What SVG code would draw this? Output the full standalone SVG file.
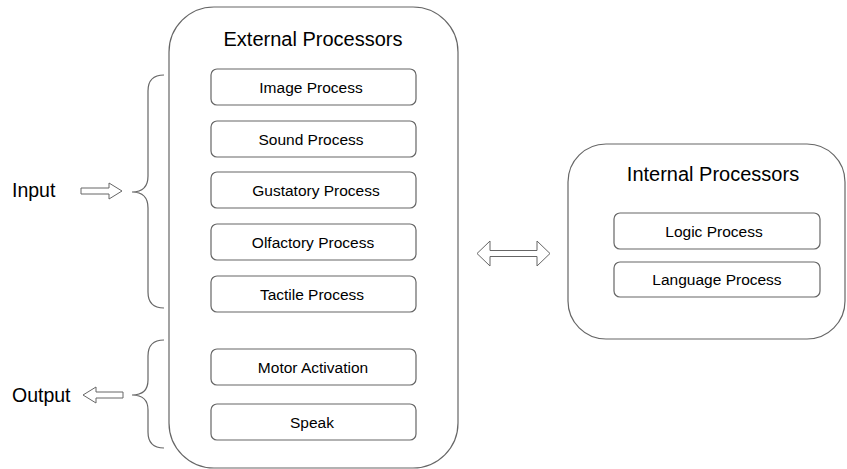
<svg xmlns="http://www.w3.org/2000/svg" width="847" height="469" viewBox="0 0 847 469">
<style>
.big{fill:#fff;stroke:#666;stroke-width:1.2}
.box{fill:#fff;stroke:#666;stroke-width:1.2}
.t{font-family:"Liberation Sans",Arial,sans-serif;fill:#000;text-anchor:middle}
.s{font-size:15.5px}
.h{font-size:20px}
.l{font-family:"Liberation Sans",Arial,sans-serif;font-size:19.5px;fill:#000}
.br{fill:none;stroke:#666;stroke-width:1.2}
.ar{fill:#fff;stroke:#666;stroke-width:1}
</style>
<rect width="847" height="469" fill="#fff"/>
<g id="external">
<rect class="big" x="169" y="7" width="289" height="461" rx="45" ry="45"/>
<text class="t h" x="313" y="46">External Processors</text>
</g>
<g id="image"><rect class="box" x="211" y="69" width="205" height="36" rx="6"/><text class="t s" x="311" y="93">Image Process</text></g>
<g id="sound"><rect class="box" x="211" y="121" width="205" height="36" rx="6"/><text class="t s" x="311" y="145">Sound Process</text></g>
<g id="gustatory"><rect class="box" x="211" y="172" width="205" height="36" rx="6"/><text class="t s" x="316" y="196">Gustatory Process</text></g>
<g id="olfactory"><rect class="box" x="211" y="224" width="205" height="36" rx="6"/><text class="t s" x="313" y="248">Olfactory Process</text></g>
<g id="tactile"><rect class="box" x="211" y="276" width="205" height="36" rx="6"/><text class="t s" x="312" y="300">Tactile Process</text></g>
<g id="motor"><rect class="box" x="211" y="349" width="205" height="36" rx="6"/><text class="t s" x="313" y="373">Motor Activation</text></g>
<g id="speak"><rect class="box" x="211" y="404" width="205" height="36" rx="6"/><text class="t s" x="312" y="428">Speak</text></g>
<g id="internal">
<rect class="big" x="568" y="144" width="277" height="195" rx="38" ry="38"/>
<text class="t h" x="713" y="181">Internal Processors</text>
</g>
<g id="logic"><rect class="box" x="614" y="213" width="206" height="36" rx="6"/><text class="t s" x="714" y="237">Logic Process</text></g>
<g id="language"><rect class="box" x="614" y="262" width="206" height="35" rx="6"/><text class="t s" x="717" y="285">Language Process</text></g>
<g id="input"><text class="l" x="12" y="197">Input</text></g>
<g id="output"><text class="l" x="12" y="402">Output</text></g>
<g id="connectors">
<path class="br" d="M164,75 Q148,75 148,91 L148,176 Q148,192 132,192 Q148,192 148,208 L148,292 Q148,308 164,308"/>
<path class="br" d="M164,340 Q148,340 148,356 L148,380 Q148,395 132,395 Q148,395 148,410 L148,432 Q148,448 164,448"/>
<path class="ar" d="M81,188 L109,188 L109,183 L122,191 L109,199 L109,194 L81,194 Z"/>
<path class="ar" d="M123,392 L96,392 L96,387 L83,395 L96,403 L96,398 L123,398 Z"/>
<path class="ar" d="M477,253.5 L490,241 L490,250.5 L537,250.5 L537,241 L550,253.5 L537,266 L537,256.5 L490,256.5 L490,266 Z"/>
</g>
</svg>
